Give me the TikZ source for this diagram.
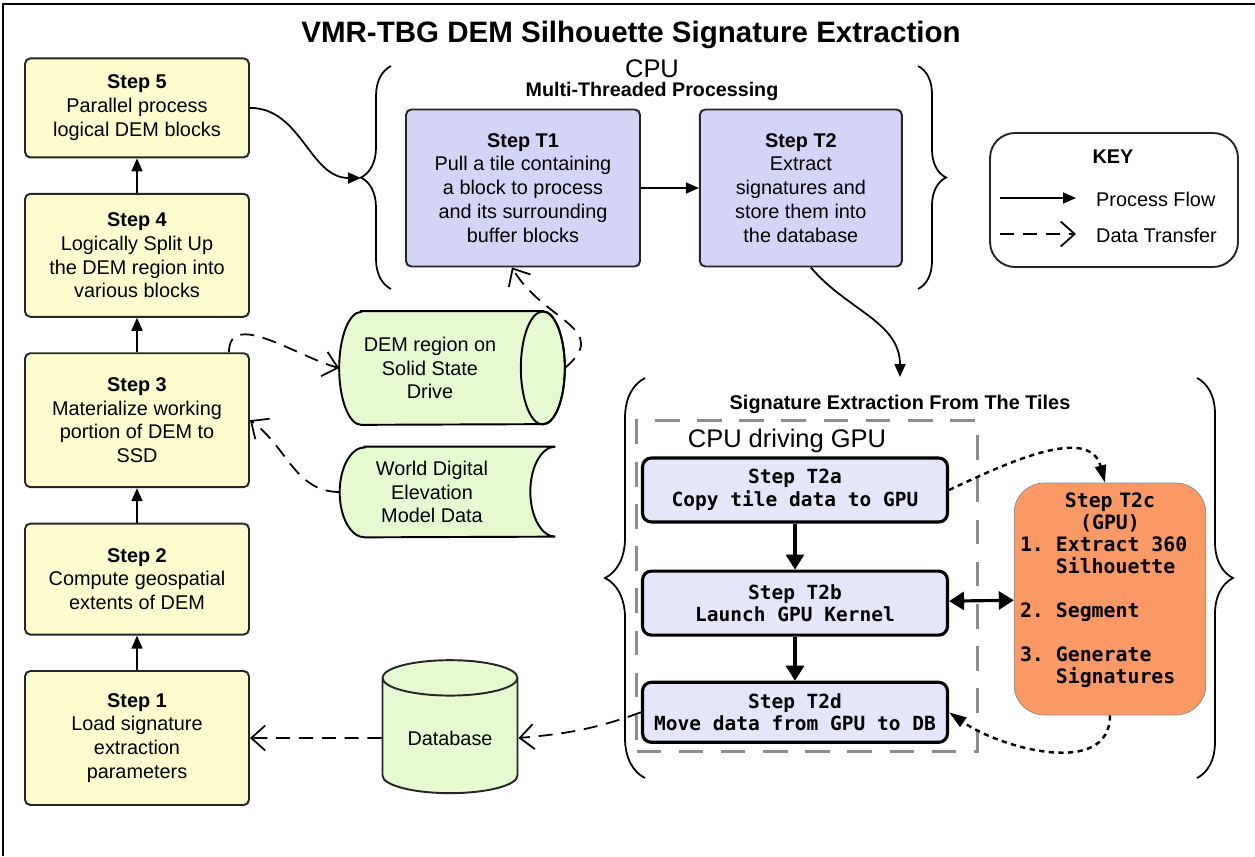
\documentclass[tikz,border=0pt]{standalone}
\usepackage{fontspec}
\setmainfont{Liberation Sans}
\setmonofont{DejaVu Sans Mono}
\usepackage{tikz}
\usetikzlibrary{positioning, arrows.meta, shapes.geometric, decorations.pathreplacing, backgrounds}

\definecolor{stepyellow}{HTML}{FCFCCF}
\definecolor{tileblue}{HTML}{D4D4F7}
\definecolor{gpublue}{HTML}{E6E6FA}
\definecolor{storegreen}{HTML}{E6FAD2}
\definecolor{kernelorange}{HTML}{FA9966}

\newcommand{\monosp}{\hspace*{0.602em}}

\begin{document}
\begin{tikzpicture}[
    x=0.02cm, y=-0.02cm,
    lbl/.style={font=\fontsize{11.3}{13.6}\selectfont},
    stepbox/.style={
        rectangle,
        rounded corners=3pt,
        draw=black!85,
        fill=stepyellow,
        line width=1.1pt,
        minimum width=4.48cm,
        align=center,
        lbl,
        inner sep=1pt
    },
    tilebox/.style={
        stepbox,
        fill=tileblue,
        minimum height=3.14cm
    },
    gpustep/.style={
        rectangle,
        rounded corners=5pt,
        draw=black,
        fill=gpublue,
        line width=1.8pt,
        minimum width=6.1cm,
        align=center,
        font=\fontsize{11.1}{13}\selectfont\ttfamily\bfseries,
        inner sep=1pt
    },
    storage/.style={
        cylinder,
        draw=black!85,
        fill=storegreen,
        line width=1.1pt,
        align=center,
        lbl,
        inner sep=1pt
    },
    sidebrace/.style={
        decorate,
        decoration={brace, amplitude=#1},
        line width=1pt
    },
    procflow/.style={
        -{Triangle[length=2.6mm,width=2.2mm]},
        line width=1pt
    },
    xfer/.style={
        -{Straight Barb[length=2.8mm,width=5mm]},
        line width=1pt,
        dash pattern=on 8pt off 5pt
    },
    gpuflow/.style={
        -{Triangle[length=3mm,width=3.6mm]},
        line width=1.8pt
    },
    gpuxfer/.style={
        -{Triangle[length=3.5mm,width=2.2mm]},
        line width=1.4pt,
        dash pattern=on 3pt off 2.5pt
    }
]
\useasboundingbox (0,0) rectangle (1255,856);
\draw[line width=1pt] (3,856) -- (3,4) -- (1255,4);

\node[font=\fontsize{16.8}{20}\selectfont\bfseries] (title) at (631,35) {VMR-TBG DEM Silhouette Signature Extraction};

% --- Serial steps (left column) ---
\node[stepbox, minimum height=2.68cm] (step1) at (137,738) {\textbf{Step 1}\\Load signature\\extraction\\parameters};
\node[stepbox, minimum height=2.22cm, above=0.69cm of step1] (step2) {\textbf{Step 2}\\Compute geospatial\\extents of DEM};
\node[stepbox, minimum height=2.68cm, above=0.69cm of step2] (step3) {\textbf{Step 3}\\Materialize working\\portion of DEM to\\SSD};
\node[stepbox, minimum height=2.46cm, above=0.69cm of step3] (step4) {\textbf{Step 4}\\Logically Split Up\\the DEM region into\\various blocks};
\node[stepbox, minimum height=1.98cm, above=0.69cm of step4] (step5) {\textbf{Step 5}\\Parallel process\\logical DEM blocks};

\foreach \a/\b in {step1/step2, step2/step3, step3/step4, step4/step5}
    \draw[procflow] (\a) -- (\b);

% --- Storage ---
\node[lbl, align=center, minimum width=3.62cm, minimum height=2.26cm, inner sep=0pt] (ssd) at (430,368) {DEM region on\\Solid State\\Drive};
\node[lbl, align=center, minimum width=3.68cm, minimum height=1.8cm, inner sep=0pt] (worlddem) at (432,492) {World Digital\\Elevation\\Model Data};
\begin{pgfonlayer}{background}
\draw[fill=storegreen, line width=1.1pt] ([xshift=0.44cm]ssd.north west) -- ([xshift=0.44cm]ssd.north east)
    arc[start angle=90, end angle=-90, x radius=0.44cm, y radius=1.13cm]
    -- ([xshift=0.44cm]ssd.south west)
    arc[start angle=270, end angle=90, x radius=0.44cm, y radius=1.13cm] -- cycle;
\draw[line width=1.1pt] ([xshift=0.44cm]ssd.east) ellipse[x radius=0.44cm, y radius=1.13cm];
\draw[fill=storegreen, line width=1.1pt] ([xshift=0.5cm]worlddem.north west) -- ([xshift=0.62cm]worlddem.north east)
    arc[start angle=90, end angle=270, x radius=0.5cm, y radius=0.9cm]
    -- ([xshift=0.5cm]worlddem.south west)
    arc[start angle=270, end angle=90, x radius=0.5cm, y radius=0.9cm] -- cycle;
\end{pgfonlayer}
\node[storage, shape border rotate=90, aspect=0.4, minimum width=2.7cm, minimum height=2.66cm] (db) at (450,738) {Database};

% --- CPU multi-threaded block ---
\node[font=\fontsize{14.5}{17}\selectfont] (cpulabel) at (652,69) {CPU};
\node[lbl, font=\fontsize{11.2}{13}\selectfont\bfseries] (mtlabel) at (652,91) {Multi-Threaded Processing};

\node[tilebox, minimum width=4.68cm] (t1) at (523,188) {\textbf{Step T1}\\Pull a tile containing\\a block to process\\and its surrounding\\buffer blocks};
\node[tilebox, minimum width=4.04cm, right=1.16cm of t1] (t2) {\textbf{Step T2}\\Extract\\signatures and\\store them into\\the database};
\draw[procflow] (t1) -- (t2);

\draw[sidebrace=0.6cm] (391,289) -- (391,66);
\draw[sidebrace=0.56cm] (918,66) -- (918,289);
\coordinate (cputip) at (361,178);

% --- Signature extraction from the tiles ---
\draw[sidebrace=0.8cm] (645,778) -- (645,378);
\draw[sidebrace=0.72cm] (1197,378) -- (1197,778);
\coordinate (sigtop) at (900,377);
\node[lbl, font=\fontsize{11.3}{13.6}\selectfont\bfseries] (siglabel) at (900,404) {Signature Extraction From The Tiles};

\node[draw=black!45, line width=1.4pt, dash pattern=on 14pt off 10pt, minimum width=6.82cm, minimum height=6.62cm] (gpubox) at (807,586) {};
\node[font=\fontsize{14.5}{17}\selectfont] (drivelabel) at (787,441) {CPU driving GPU};

\node[gpustep, minimum height=1.28cm] (t2a) at (795,490) {Step T2a\\Copy tile data to GPU};
\node[gpustep, minimum height=1.28cm, below=0.92cm of t2a] (t2b) {Step T2b\\Launch GPU Kernel};
\node[gpustep, minimum height=1.2cm, below=0.88cm of t2b] (t2d) {Step T2d\\Move data from GPU to DB};

\node[rectangle, rounded corners=0.6cm, draw=black!45, fill=kernelorange, minimum width=3.78cm, minimum height=4.64cm, text width=3.6cm, font=\fontsize{11.3}{12.5}\selectfont\ttfamily\bfseries] (t2c) at (1110,599)
    {\centering Step T2c\\(GPU)\par\raggedright
     1.\monosp Extract\monosp 360\\\hspace*{1.806em}Silhouette\\[12.5pt]
     2.\monosp Segment\\[12.5pt]
     3.\monosp Generate\\\hspace*{1.806em}Signatures\\\mbox{}};

\draw[gpuflow] (t2a) -- (t2b);
\draw[gpuflow] (t2b) -- (t2d);
\draw[gpuflow, {Triangle[length=3mm,width=3.6mm]}-{Triangle[length=3mm,width=3.6mm]}] (t2b) -- (t2c);
\draw[gpuxfer] (t2a.east) to[out=25, in=105] ([xshift=-0.1cm]t2c.north);
\draw[gpuxfer] (t2c.south) to[out=-90, in=-35] (t2d.east);

% --- Inter-block arrows ---
\draw[procflow] (step5.east) to[out=0, in=180] (cputip);
\draw[procflow] ([xshift=0.2cm]t2.south) to[out=-50, in=90] (sigtop);
\draw[xfer] ([xshift=-0.42cm]step3.north east) to[out=90, in=165] (ssd.west);
\draw[xfer] (worlddem.west) to[out=180, in=-35] (step3.east);
\draw[xfer] ([xshift=0.88cm]ssd.east) to[out=40, in=-60, looseness=1.4] ([xshift=-0.22cm]t1.south);
\draw[xfer] (t2d.west) to[out=200, in=5] (db.east);
\draw[xfer] (db.west) -- (step1.east);

% --- Key ---
\node[rectangle, rounded corners=0.5cm, draw=black!85, line width=1.1pt, minimum width=4.96cm, minimum height=2.68cm] (keybox) at (1114,200) {};
\node[lbl, font=\fontsize{11.3}{13.6}\selectfont\bfseries] (keytitle) at (1113,157) {KEY};
\coordinate (flowstart) at (1000,198);
\coordinate (flowend) at (1076,198);
\coordinate (xferstart) at (1000,234);
\coordinate (xferend) at (1076,234);
\draw[procflow] (flowstart) -- (flowend);
\draw[xfer] (xferstart) -- (xferend);
\node[lbl, anchor=west] (flowlabel) at (1090,199) {Process Flow};
\node[lbl, anchor=west] (xferlabel) at (1090,235) {Data Transfer};

\end{tikzpicture}
\end{document}
